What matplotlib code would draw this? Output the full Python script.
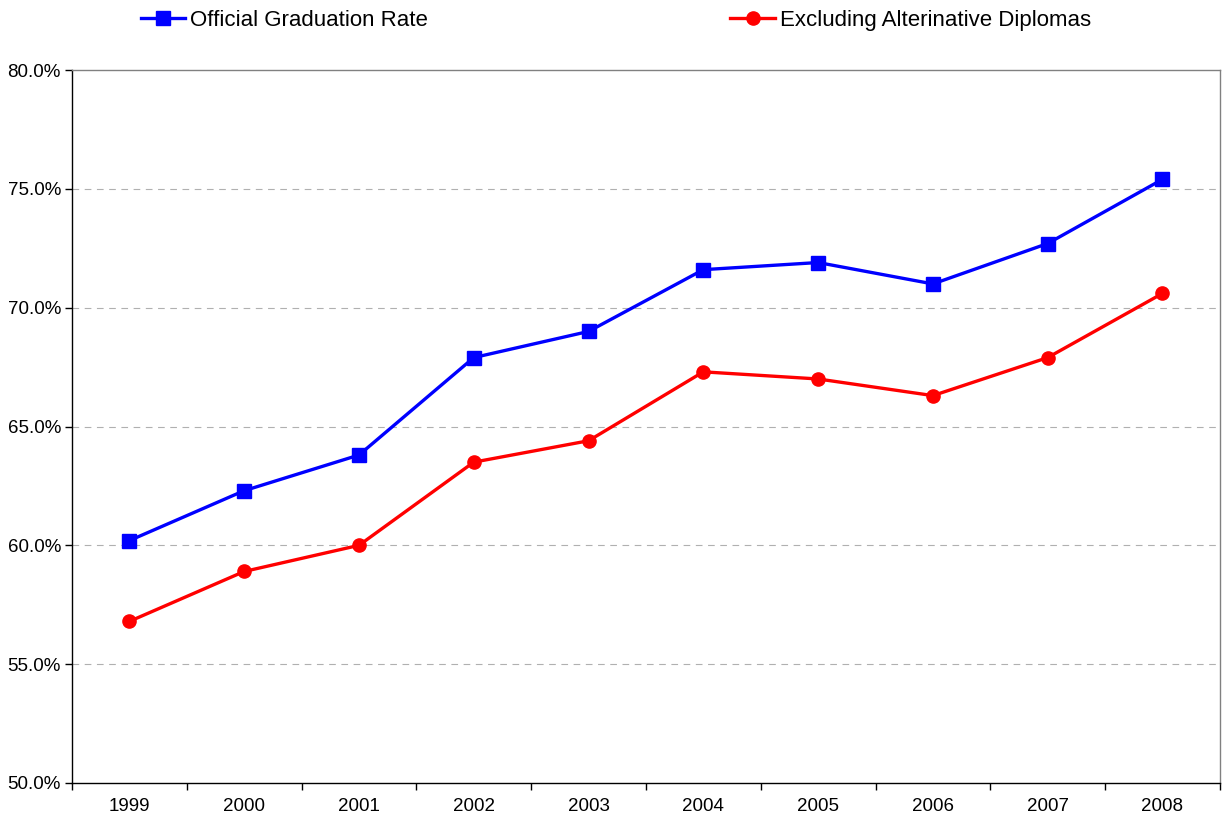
import matplotlib.pyplot as plt
from matplotlib.ticker import FuncFormatter

plt.rcParams['font.family'] = ['Liberation Sans', 'DejaVu Sans']

# Datos
years = ['1999', '2000', '2001', '2002', '2003', '2004', '2005', '2006', '2007', '2008']
official = [60.2, 62.3, 63.8, 67.9, 69.0, 71.6, 71.9, 71.0, 72.7, 75.4]
excluding = [56.8, 58.9, 60.0, 63.5, 64.4, 67.3, 67.0, 66.3, 67.9, 70.6]

fig = plt.figure(figsize=(12.25, 8.24), dpi=100)
ax = fig.add_axes([0.0588, 0.0498, 0.937, 0.8652])

x = list(range(len(years)))
ax.plot(x, official, color='#0000ff', lw=2.4, marker='s', ms=9.5,
        label='Official Graduation Rate')
ax.plot(x, excluding, color='#ff0000', lw=2.4, marker='o', ms=9.5,
        label='Excluding Alterinative Diplomas')

ax.set_xlim(-0.5, len(years) - 0.5)
ax.set_ylim(50, 80)
ax.set_yticks([50, 55, 60, 65, 70, 75, 80])
ax.yaxis.set_major_formatter(FuncFormatter(lambda v, p: f'{v:.1f}%'))

# etiquetas en el centro, marcas entre categorías
ax.set_xticks(x)
ax.set_xticklabels(years)
ax.set_xticks([i - 0.5 for i in range(len(years) + 1)], minor=True)
ax.tick_params(axis='x', which='major', length=0, pad=11, labelsize=13.5)
ax.tick_params(axis='x', which='minor', length=5, direction='out', width=1)
ax.tick_params(axis='y', length=5, direction='out', width=1, labelsize=13.5, pad=3)

for v in [55, 60, 65, 70, 75]:
    ax.axhline(v, color='#b0b0b0', lw=0.8, ls=(0, (6, 5)), zorder=0)

ax.spines['left'].set_color('black')
ax.spines['bottom'].set_color('black')
ax.spines['top'].set_color('#808080')
ax.spines['right'].set_color('#808080')
for s in ax.spines.values():
    s.set_linewidth(1)

fig.legend(loc='upper left', bbox_to_anchor=(0.0985, 1.012), ncol=2, frameon=False,
           fontsize=16, handlelength=2.0, handletextpad=0.23, columnspacing=13.6)

fig.savefig('out.png', dpi=100)
